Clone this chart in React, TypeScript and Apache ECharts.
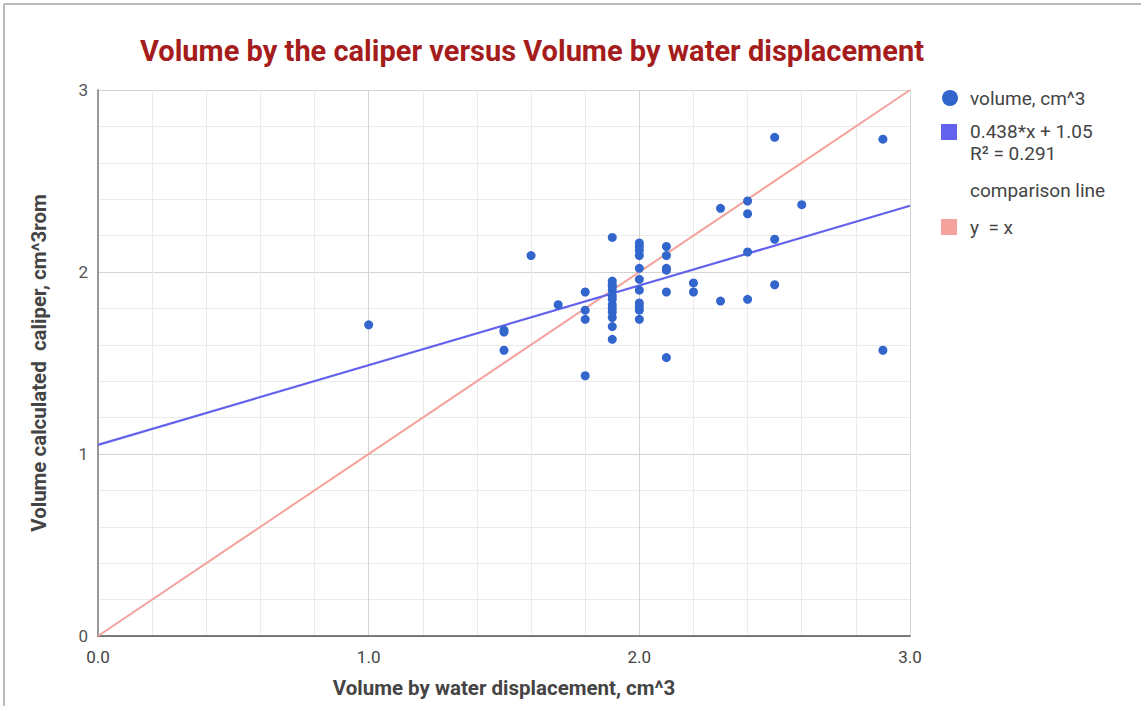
import React, { useEffect, useRef } from "react";
import * as echarts from "echarts";

const TITLE = "Volume by the caliper versus Volume by water displacement";
const X_NAME = "Volume by water displacement, cm^3";
const Y_NAME = "Volume calculated  caliper, cm^3rom";

const waterX = [
  1.0, 1.5, 1.5, 1.5, 1.6, 1.7, 1.8, 1.8, 1.8, 1.8,
  1.9, 1.9, 1.9, 1.9, 1.9, 1.9, 1.9, 1.9, 1.9, 1.9, 1.9, 1.9, 1.9,
  2.0, 2.0, 2.0, 2.0, 2.0, 2.0, 2.0, 2.0, 2.0, 2.0, 2.0,
  2.1, 2.1, 2.1, 2.1, 2.1, 2.1,
  2.2, 2.2, 2.3, 2.3, 2.4, 2.4, 2.4, 2.4,
  2.5, 2.5, 2.5, 2.6, 2.9, 2.9,
];
const caliperY = [
  1.71, 1.68, 1.67, 1.57, 2.09, 1.82, 1.89, 1.79, 1.74, 1.43,
  2.19, 1.95, 1.93, 1.92, 1.9, 1.87, 1.85, 1.82, 1.8, 1.78, 1.75, 1.7, 1.63,
  2.16, 2.14, 2.12, 2.09, 2.02, 1.96, 1.9, 1.83, 1.81, 1.79, 1.74,
  2.14, 2.09, 2.02, 2.01, 1.89, 1.53,
  1.94, 1.89, 2.35, 1.84, 2.39, 2.32, 2.11, 1.85,
  2.74, 2.18, 1.93, 2.37, 2.73, 1.57,
];

const trendX = [0, 3];
const trendY = [1.05, 2.364];
const compX = [0, 3];
const compY = [0, 3];

const xTicks = [0, 1, 2, 3];
const yTicks = [0, 1, 2, 3];

const legendLabels = ["volume, cm^3", "0.438*x + 1.05", "R² = 0.291", "comparison line", "y  = x"];

const C_POINT = "#3366cc";
const C_TREND = "#6262ee";
const C_COMP = "#f4a29c";
const FONT = "Roboto, Arial, sans-serif";
const LEG_FONT = `19px ${FONT}`;

export default function App() {
  const ref = useRef<HTMLDivElement>(null);
  useEffect(() => {
    const chart = echarts.init(ref.current!, null, { renderer: "svg" });
    const pts = waterX.map((x, i) => [x, caliperY[i]]);
    const trend = trendX.map((x, i) => [x, trendY[i]]);
    const comp = compX.map((x, i) => [x, compY[i]]);
    chart.setOption({
      animation: false,
      backgroundColor: "#fff",
      textStyle: { fontFamily: FONT },
      title: {
        text: TITLE,
        left: 527,
        textAlign: "center",
        top: 31,
        textStyle: { color: "#a51c1c", fontSize: 29, fontWeight: "bold", fontFamily: FONT },
      },
      grid: { left: 98, right: 231, top: 90, bottom: 70 },
      xAxis: {
        type: "value",
        min: 0,
        max: 3,
        interval: 1,
        name: X_NAME,
        nameLocation: "middle",
        nameGap: 41,
        nameTextStyle: { color: "#444", fontSize: 20.5, fontWeight: "bold", fontFamily: FONT },
        axisLine: { show: true, onZero: false, lineStyle: { color: "#555", width: 1.5 } },
        axisTick: { show: false },
        axisLabel: {
          color: "#444",
          fontSize: 17,
          margin: 12,
          formatter: (v: number) => (xTicks.includes(v) ? v.toFixed(1) : ""),
        },
        splitLine: { show: true, lineStyle: { color: "#d4d4d4" } },
        minorTick: { show: false, splitNumber: 5 },
        minorSplitLine: { show: true, lineStyle: { color: "#ebebeb" } },
      },
      yAxis: {
        type: "value",
        min: 0,
        max: 3,
        interval: 1,
        name: Y_NAME,
        nameLocation: "middle",
        nameGap: 49,
        nameTextStyle: { color: "#444", fontSize: 20.5, fontWeight: "bold", fontFamily: FONT },
        axisLine: { show: true, onZero: false, lineStyle: { color: "#999", width: 2 } },
        axisTick: { show: false },
        axisLabel: {
          color: "#555",
          fontSize: 17,
          margin: 10,
          formatter: (v: number) => (yTicks.includes(v) ? String(v) : ""),
        },
        splitLine: { show: true, lineStyle: { color: "#d4d4d4" } },
        minorTick: { show: false, splitNumber: 5 },
        minorSplitLine: { show: true, lineStyle: { color: "#ebebeb" } },
      },
      series: [
        {
          name: "comparison",
          type: "line",
          data: comp,
          symbol: "none",
          lineStyle: { color: C_COMP, width: 2 },
          z: 2,
        },
        {
          name: "trend",
          type: "line",
          data: trend,
          symbol: "none",
          lineStyle: { color: C_TREND, width: 2.2 },
          z: 3,
        },
        {
          name: legendLabels[0],
          type: "scatter",
          data: pts,
          symbolSize: 9,
          itemStyle: { color: C_POINT, opacity: 1 },
          z: 4,
        },
      ],
      graphic: [
        { type: "line", shape: { x1: 4, y1: 4, x2: 1141, y2: 4 }, style: { stroke: "#bbb", lineWidth: 2 } },
        { type: "line", shape: { x1: 4, y1: 4, x2: 4, y2: 706 }, style: { stroke: "#bbb", lineWidth: 2 } },
        { type: "circle", shape: { cx: 950, cy: 98, r: 8 }, style: { fill: C_POINT } },
        { type: "text", x: 970, y: 98, style: { text: legendLabels[0], fill: "#444", font: LEG_FONT, verticalAlign: "middle" } },
        { type: "rect", shape: { x: 941, y: 124, width: 16, height: 16 }, style: { fill: C_TREND } },
        { type: "text", x: 970, y: 131, style: { text: legendLabels[1], fill: "#444", font: LEG_FONT, verticalAlign: "middle" } },
        { type: "text", x: 970, y: 153, style: { text: legendLabels[2], fill: "#444", font: LEG_FONT, verticalAlign: "middle" } },
        { type: "text", x: 970, y: 190, style: { text: legendLabels[3], fill: "#444", font: LEG_FONT, verticalAlign: "middle" } },
        { type: "rect", shape: { x: 941, y: 219, width: 16, height: 16 }, style: { fill: C_COMP } },
        { type: "text", x: 970, y: 227, style: { text: legendLabels[4], fill: "#444", font: LEG_FONT, verticalAlign: "middle" } },
      ],
    });
    return () => chart.dispose();
  }, []);
  return (
    <div
      ref={ref}
      style={{ position: "fixed", left: 0, top: 0, width: 1141, height: 706, background: "#fff" }}
    />
  );
}
